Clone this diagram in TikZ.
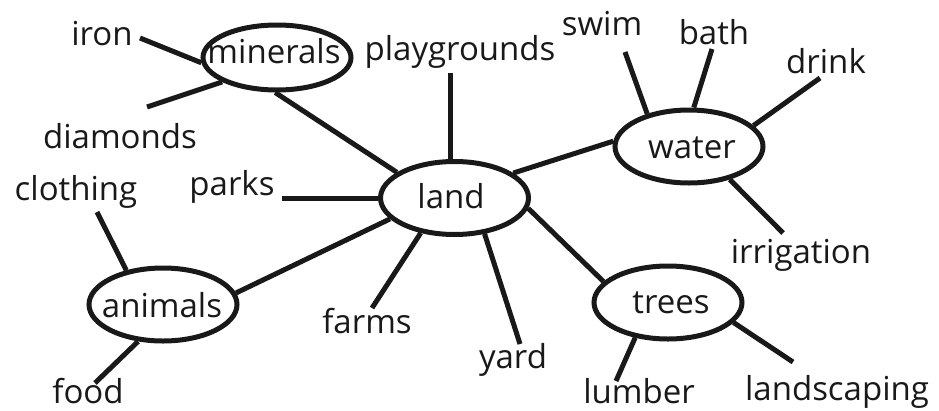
\documentclass[tikz,border=0pt]{standalone}
\usepackage{fontspec}
\setmainfont{Open Sans}
\usetikzlibrary{shapes.geometric}
\begin{document}
\begin{tikzpicture}[x=1pt,y=-1pt,
  word/.style={inner sep=0pt, anchor=base, font=\fontsize{33}{36}\selectfont, text=black!90},
  hub/.style={ellipse, draw=black!90, line width=5pt, inner sep=0pt,
              minimum width=148pt, minimum height=73pt},
  link/.style={draw=black!90, line width=5pt}]
\useasboundingbox (0,0) rectangle (939,410);

% central topics
\node[hub] (land) at (454.5,198) {};
\node[hub, minimum height=65pt] (minerals) at (277,57.5) {};
\node[hub] (water) at (689,146.5) {};
\node[hub] (animals) at (163,304.5) {};
\node[hub] (trees) at (668,302.5) {};

\node[word] (landT) at (451,208) {land};
\node[word] (mineralsT) at (274,63) {minerals};
\node[word] (waterT) at (692,158) {water};
\node[word] (animalsT) at (162,317) {animals};
\node[word] (treesT) at (671,313) {trees};

% leaf words
\node[word] (iron) at (102,45) {iron};
\node[word] (diamonds) at (120,148) {diamonds};
\node[word] (playgrounds) at (460,60) {playgrounds};
\node[word] (parks) at (232,195) {parks};
\node[word] (clothing) at (76,200) {clothing};
\node[word] (swim) at (602,35) {swim};
\node[word] (bath) at (714,44) {bath};
\node[word] (drink) at (826,73) {drink};
\node[word] (farms) at (367,333) {farms};
\node[word] (food) at (88,403) {food};
\node[word] (yard) at (513,368) {yard};
\node[word] (irrigation) at (801,263) {irrigation};
\node[word] (lumber) at (639,403) {lumber};
\node[word] (landscaping) at (837,400) {landscaping};

% free ends of the spokes
\coordinate (ironE) at (140,38);
\coordinate (diamondsE) at (147,107);
\coordinate (playgroundsE) at (450,73);
\coordinate (parksE) at (282,198);
\coordinate (clothingE) at (97,212);
\coordinate (foodE) at (95,383);
\coordinate (farmsE) at (372,308);
\coordinate (yardE) at (520,344);
\coordinate (swimE) at (625,52);
\coordinate (bathE) at (712,49);
\coordinate (drinkE) at (820,78);
\coordinate (irrigationE) at (783,233);
\coordinate (lumberE) at (616,381);
\coordinate (landscapingE) at (793,362);

% spokes
\path[link] (ironE) -- (minerals.184);
\path[link] (diamondsE) -- (minerals.204);
\path[link] (minerals.267) -- (land.156);
\path[link] (playgroundsE) -- (playgroundsE |- land.north);
\path[link] (parksE) -- (land.180);
\path[link] (animals.9) -- (land.198);
\path[link] (farmsE) -- (land.226);
\path[link] (yardE) -- (land.310);
\path[link] (land.23) -- (water.176);
\path[link] (land.352) -- (trees.162);
\path[link] (swimE) -- (water.142);
\path[link] (bathE) -- (water.83);
\path[link] (drinkE) -- (water.18);
\path[link] (irrigationE) -- (water.321);
\path[link] (clothingE) -- (animals.137);
\path[link] (foodE) -- (animals.236);
\path[link] (lumberE) -- (trees.227);
\path[link] (landscapingE) -- (trees.343);
\end{tikzpicture}
\end{document}
